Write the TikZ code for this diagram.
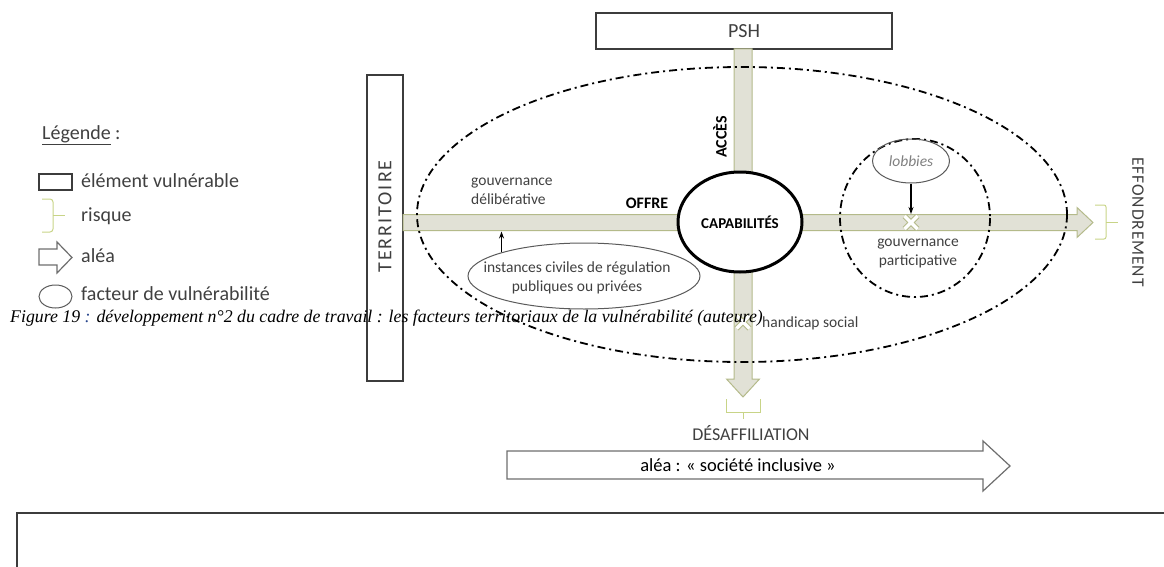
\documentclass[tikz,border=0pt]{standalone}
\usepackage{fontspec}
\setmainfont{Carlito}
\newfontfamily\capfont{Liberation Serif}
\newfontfamily\widefont[LetterSpace=10]{Carlito}
\newfontfamily\effondfont[LetterSpace=5]{Carlito}
\usetikzlibrary{shapes.geometric,arrows.meta,positioning,calc}

\definecolor{darktext}{RGB}{64,64,64}
\definecolor{boxline}{RGB}{60,60,60}
\definecolor{barfill}{RGB}{225,225,214}
\definecolor{barline}{RGB}{180,186,138}
\definecolor{riskcol}{RGB}{200,212,135}
\definecolor{aleagray}{RGB}{110,110,110}
\definecolor{ellgray}{RGB}{90,90,90}
\definecolor{capblue}{RGB}{40,70,140}

\tikzset{
    lbl/.style={inner sep=0pt, text=darktext, font=\fontsize{15.5}{19}\selectfont},
    bigtxt/.style={inner sep=0pt, text=darktext, font=\fontsize{20}{24}\selectfont},
    vuln/.style={draw=boxline, line width=1.2pt, fill=white},
    facteur/.style={draw=ellgray, line width=1pt},
    zone/.style={line width=1.8pt, dash pattern=on 8pt off 4pt on 2pt off 4pt},
    bar/.style={fill=barfill, draw=barline, line width=1pt},
    risk/.style={draw=riskcol, line width=1pt},
    alea/.style={fill=white, draw=aleagray, line width=1.2pt},
    pin/.style={line width=1.2pt, -{Stealth[length=7pt, width=5pt]}},
    xline/.style={draw=barline, line width=5.5pt},
    xfill/.style={draw=white, line width=3.5pt},
}

\begin{document}
\begin{tikzpicture}[x=1pt, y=-1pt]
    \useasboundingbox (0,0) rectangle (1164,567);

    % bottom frame
    \draw[boxline, line width=1.3pt] (17,513) rectangle (1185,595);

    % Legend
    \node[bigtxt, anchor=base west] (legtitle) at (42,139.5) {\underline{Légende} :};
    \draw[vuln] (39,174) rectangle (72,190);
    \node[bigtxt, anchor=base west] (legvuln) at (81,187.5) {élément vulnérable};
    \draw[risk, rounded corners=3pt] (42,199) -- (53,199) -- (53,232) -- (42,232);
    \draw[risk] (53,215.5) -- (65,215.5);
    \node[bigtxt, anchor=base west] (legrisk) at (81,221) {risque};
    \draw[alea] (39,249) -- (57,249) -- (57,242) -- (72,257.5) -- (57,273) -- (57,265) -- (39,265) -- cycle;
    \node[bigtxt, anchor=base west] (legalea) at (81,262.5) {aléa};
    \draw[facteur] (55.5,296.5) ellipse [x radius=16.5, y radius=11.5];
    \node[bigtxt, anchor=base west] (legfact) at (81,300.5) {facteur de vulnérabilité};

    % TERRITOIRE
    \node[vuln, minimum width=36pt, minimum height=306pt] (territoire) at (385,228) {};
    \node[inner sep=0pt, text=darktext, rotate=90, font=\widefont\fontsize{20}{24}\selectfont] (territoirelbl) at (385,216.5) {TERRITOIRE};

    % PSH
    \node[vuln, minimum width=296pt, minimum height=36pt, text=darktext, font=\fontsize{20}{24}\selectfont] (psh) at (744,31) {PSH};

    % axes
    \draw[bar] (403,214.5) -- (1077,214.5) -- (1077,207.5) -- (1093,222.5) -- (1077,237.5) -- (1077,230.5) -- (403,230.5) -- cycle;
    \draw[bar] (734,49) -- (734,379) -- (726.5,379) -- (743,397) -- (759.5,379) -- (752,379) -- (752,49) -- cycle;

    % zones
    \draw[zone] (742,214.5) ellipse [x radius=325, y radius=147.5];
    \draw[zone] (915,218) ellipse [x radius=75, y radius=79];

    % CAPABILITES
    \node[ellipse, draw, line width=3pt, fill=white, minimum width=124pt, minimum height=100pt, inner sep=0pt, font=\bfseries\fontsize{15}{18}\selectfont] (capa) at (740,222) {CAPABILITÉS};
    \node[inner sep=0pt, rotate=90, font=\bfseries\fontsize{16}{19}\selectfont] (acces) at (720,137) {ACCÈS};
    \node[inner sep=0pt, font=\bfseries\fontsize{16}{19}\selectfont] (offre) at (647,203) {OFFRE};

    % gouvernance deliberative
    \node[lbl, anchor=west, align=left] (gdelib) at (471,191.5) {gouvernance\\délibérative};
    \node[facteur, ellipse, minimum width=232pt, minimum height=66pt, inner sep=0pt] (instances) at (584,276) {};
    \node[lbl, align=center] (instlbl) at (577,277.5) {instances civiles de régulation\\publiques ou privées};
    \coordinate (insttip) at (502,231.5);
    \draw[pin] (instances.164) -- (instances.164 |- insttip);

    % lobbies
    \node[facteur, ellipse, minimum width=77pt, minimum height=44pt, inner sep=0pt, text=gray, font=\itshape\fontsize{15.5}{19}\selectfont] (lobbies) at (911,161) {lobbies};
    \coordinate (lobtip) at (911,214);
    \draw[pin] (lobbies) -- (lobtip);

    % ruptures
    \coordinate (xlob) at (911,222.5);
    \coordinate (xhand) at (743,322);
    \foreach \c in {xlob,xhand}{
        \begin{scope}[shift={(\c)}]
            \draw[xline] (-6.5,-6.5) -- (6.5,6.5) (-6.5,6.5) -- (6.5,-6.5);
            \draw[xfill] (-6.5,-6.5) -- (6.5,6.5) (-6.5,6.5) -- (6.5,-6.5);
        \end{scope}
    }
    \node[lbl, align=center] (gpart) at (918,253.5) {gouvernance\\participative};
    \node[lbl, anchor=west] (handicap) at (762,323) {handicap social};

    % risques
    \node[inner sep=0pt, text=darktext, rotate=-90, font=\effondfont\fontsize{17.5}{21}\selectfont] (effond) at (1138,222) {EFFONDREMENT};
    \draw[risk, rounded corners=2pt] (1095,205) -- (1106,205) -- (1106,239) -- (1095,239);
    \draw[risk] (1106,222) -- (1118,222);
    \draw[risk] (726,399) -- (726,412) -- (760,412) -- (760,399);
    \draw[risk] (743,412) -- (743,419);
    \node[inner sep=0pt, text=darktext, font=\fontsize{18}{22}\selectfont] (desaff) at (751,433) {DÉSAFFILIATION};

    % alea
    \draw[alea] (507,451) -- (983,451) -- (983,441) -- (1010,466) -- (983,491) -- (983,479) -- (507,479) -- cycle;
    \node[inner sep=0pt, font=\fontsize{18.5}{22}\selectfont] (alealbl) at (738,465) {aléa : « société inclusive »};

    % caption
    \node[inner sep=0pt, anchor=base west, font=\capfont\itshape\fontsize{17.8}{21}\selectfont] (caption) at (10,322) {Figure 19 {\color{capblue}:} développement n°2 du cadre de travail : les facteurs territoriaux de la vulnérabilité (auteure)};
\end{tikzpicture}
\end{document}
